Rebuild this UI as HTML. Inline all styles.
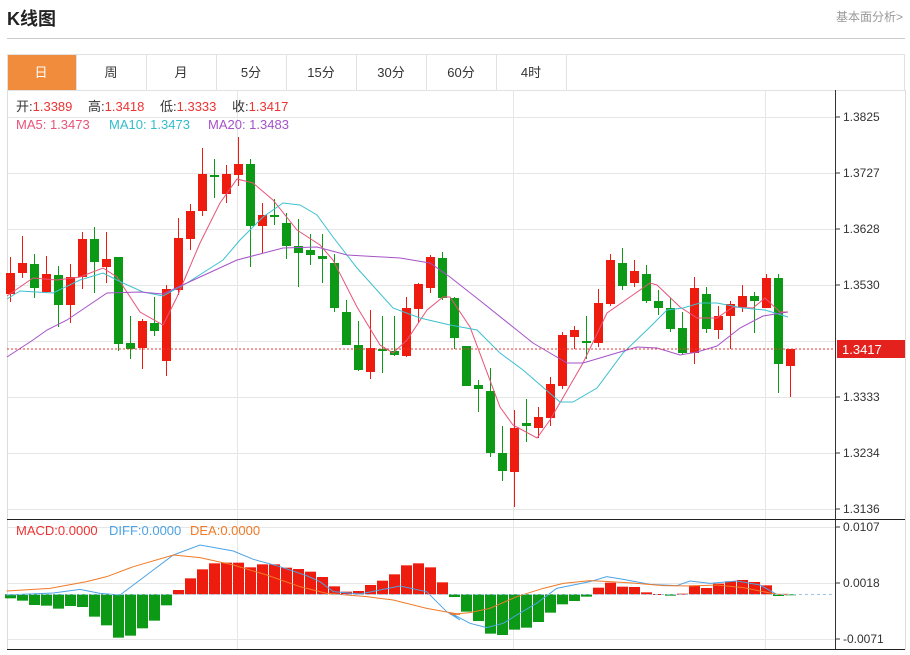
<!DOCTYPE html>
<html><head><meta charset="utf-8"><style>
body{margin:0;background:#fff;width:910px;height:650px;overflow:hidden;font-family:"Liberation Sans","Noto Sans CJK SC",sans-serif;}
svg text{font-family:"Liberation Sans","Noto Sans CJK SC",sans-serif;}
</style></head><body>
<svg id="s" width="910" height="650" xmlns="http://www.w3.org/2000/svg">
<text x="7" y="25" font-size="18" font-weight="bold" fill="#222">K线图</text>
<text x="903" y="21" font-size="12" fill="#999" text-anchor="end">基本面分析&gt;</text>
<line x1="7" y1="38.5" x2="905" y2="38.5" stroke="#ccc"/>
<rect x="7.5" y="54.5" width="897" height="36" fill="#fff" stroke="#e2e2e2"/>
<rect x="8" y="55" width="68" height="35" fill="#f08c3c"/>
<g font-size="13" text-anchor="middle" fill="#333">
<text x="41" y="77" fill="#fff">日</text><text x="111" y="77">周</text><text x="181" y="77">月</text><text x="251" y="77">5分</text><text x="321" y="77">15分</text><text x="391" y="77">30分</text><text x="461" y="77">60分</text><text x="531" y="77">4时</text>
</g>
<g stroke="#e2e2e2"><line x1="76.5" y1="55" x2="76.5" y2="90"/><line x1="146.5" y1="55" x2="146.5" y2="90"/><line x1="216.5" y1="55" x2="216.5" y2="90"/><line x1="286.5" y1="55" x2="286.5" y2="90"/><line x1="356.5" y1="55" x2="356.5" y2="90"/><line x1="426.5" y1="55" x2="426.5" y2="90"/><line x1="496.5" y1="55" x2="496.5" y2="90"/><line x1="566.5" y1="55" x2="566.5" y2="90"/></g>
<g id="grid" stroke="#e6e6e6"></g>
<line x1="7.5" y1="90" x2="7.5" y2="650" stroke="#ddd"/>
<line x1="905.5" y1="90" x2="905.5" y2="650" stroke="#ddd"/>
<line x1="835.5" y1="90" x2="835.5" y2="650" stroke="#333"/>
<line x1="7" y1="519.5" x2="905" y2="519.5" stroke="#222"/>
<line x1="7" y1="649.5" x2="905" y2="649.5" stroke="#222"/>
<g id="g"></g>
<line x1="7" y1="349" x2="835" y2="349" stroke="#e33" stroke-dasharray="2,2"/>
<line x1="7" y1="594.5" x2="835" y2="594.5" stroke="#9cc3e6" stroke-dasharray="3,3"/>
<rect x="837" y="340" width="68" height="18" fill="#e5211d"/>
<text x="842" y="354" font-size="13" fill="#fff">1.3417</text>
<g font-size="13">
<text x="16" y="111" fill="#333">开:<tspan fill="#e33">1.3389</tspan></text>
<text x="88" y="111" fill="#333">高:<tspan fill="#e33">1.3418</tspan></text>
<text x="160" y="111" fill="#333">低:<tspan fill="#e33">1.3333</tspan></text>
<text x="232" y="111" fill="#333">收:<tspan fill="#e33">1.3417</tspan></text>
<text x="16" y="129" fill="#e8537a">MA5: 1.3473</text>
<text x="109" y="129" fill="#33bccc">MA10: 1.3473</text>
<text x="208" y="129" fill="#a552c8">MA20: 1.3483</text>
<text x="16" y="535" fill="#e33">MACD:0.0000</text>
<text x="109" y="535" fill="#4da3e6">DIFF:0.0000</text>
<text x="190" y="535" fill="#f07a28">DEA:0.0000</text>
</g>
</svg>
<script>
var s=document.getElementById('g'),gr=document.getElementById('grid'),h='',gh='';
var ys=[117,173,229,285,341,397,453,509],lb=['1.3825','1.3727','1.3628','1.3530','1.3431','1.3333','1.3234','1.3136'];
ys.forEach(function(y,i){gh+='<line x1="8" y1="'+(y+.5)+'" x2="835" y2="'+(y+.5)+'"/>';if(i!=4)h+='<line x1="835" y1="'+y+'" x2="840" y2="'+y+'" stroke="#333"/><text x="843" y="'+(y+4)+'" font-size="12" fill="#333">'+lb[i]+'</text>';});
[[527,'0.0107'],[583,'0.0018'],[639,'-0.0071']].forEach(function(a){gh+='<line x1="8" y1="'+(a[0]+.5)+'" x2="835" y2="'+(a[0]+.5)+'"/>';h+='<line x1="835" y1="'+a[0]+'" x2="840" y2="'+a[0]+'" stroke="#333"/><text x="843" y="'+(a[0]+4)+'" font-size="12" fill="#333">'+a[1]+'</text>';});
[237,513,765].forEach(function(x){gh+='<line x1="'+(x+.5)+'" y1="90" x2="'+(x+.5)+'" y2="650"/>';});
gr.innerHTML=gh;
var C=[['r',273,294,257,302],['r',263,273,236,278],['g',264,288,254,298],['r',274,292,256,293],['g',275,305,266,327],['r',277,305,264,323],['r',239,277,232,289],['g',239,262,227,293],['r',259,267,232,283],['g',257,344,257,351],['g',343,349,316,359],['r',321,348,319,369],['g',323,331,297,336],['r',289,361,285,376],['r',238,290,218,295],['r',211,239,204,250],['r',174,211,148,216],['g',175,177,159,198],['r',174,194,165,203],['r',164,175,137,186],['g',164,226,159,267],['r',215,226,203,253],['g',215,217,199,225],['g',223,246,213,259],['g',246,253,219,287],['g',250,255,234,265],['g',256,259,234,283],['g',263,308,254,312],['g',312,345,300,345],['g',345,370,321,371],['r',348,372,310,379],['g',349,351,316,373],['g',351,355,316,356],['r',308,356,297,357],['r',284,309,283,323],['r',257,288,255,293],['g',258,298,252,300],['g',298,338,297,349],['g',346,386,346,386],['g',385,389,380,412],['g',391,453,368,457],['g',453,471,426,481],['r',428,472,410,507],['g',423,426,399,442],['r',417,428,407,438],['r',384,418,377,426],['r',335,386,332,389],['r',330,337,326,349],['g',341,343,316,359],['r',303,343,289,347],['r',260,304,254,306],['g',263,286,248,290],['r',271,283,260,287],['g',274,301,265,303],['g',301,308,290,315],['g',308,329,298,332],['g',328,353,312,355],['r',288,353,277,364],['g',294,329,287,333],['r',316,330,306,339],['r',304,316,301,349],['r',296,307,285,312],['g',296,301,292,333],['r',278,308,274,308],['g',278,364,274,393],['r',349,366,349,397]];
C.forEach(function(c,i){var x=10+12*i,col=c[0]=='r'?'#ee1c0e':'#0c9a16';h+='<line x1="'+(x+.5)+'" y1="'+c[3]+'" x2="'+(x+.5)+'" y2="'+c[4]+'" stroke="'+col+'"/><rect x="'+(x-4)+'" y="'+c[1]+'" width="9" height="'+Math.max(2,c[2]-c[1])+'" fill="'+col+'"/>';});
var M=[250,257,270,272,281,273,276,305,331,368,362,340,317,271,225,190,163,145,143,143,157,148,148,158,162,170,186,214,230,228,210,197,178,151,145,157,202,246];
var M2=[290,318,356,360,344,338,321,293,268,258,245,218,203,215,216,232,237,242,236,211,219,206,199,195,201,211,243,238];
M=M.concat(M2);var z=594.3;
M.forEach(function(v,i){var y=515+v/3,x=10+12*i,col=y<z?'#ee1c0e':'#0c9a16';var t=Math.min(y,z),hh=Math.abs(y-z);if(hh<1)hh=1;h+='<rect x="'+(x-5)+'" y="'+t+'" width="11" height="'+hh+'" fill="'+col+'"/>';});
function pl(p,col){h+='<polyline fill="none" stroke="'+col+'" stroke-width="1" points="'+p.map(function(a){return a.join(',')}).join(' ')+'"/>';}
function z3(a,ox,oy){return a.map(function(p){return [ox+p[0]/3,oy+p[1]/3];});}
pl([[7,296],[33,278],[57,280],[80,277],[103,268],[117,277],[140,312],[163,325],[177,297],[200,243],[220,203],[237,179],[253,183],[273,200],[297,230],[320,245],[333,260],[357,307],[380,345],[393,353],[407,340],[427,310],[443,297],[450,297],[470,327],[500,407],[513,425],[537,438],[550,420],[583,363],[607,313],[630,297],[650,283],[657,285],[680,307],[697,318],[717,318],[733,307],[753,308],[765,298],[780,312],[788,312]],'#e8537a');
pl([[7,299],[20,291],[53,293],[80,280],[103,273],[123,283],[143,292],[163,296],[187,283],[223,260],[240,240],[263,217],[283,203],[300,205],[317,215],[333,237],[357,268],[393,308],[420,318],[450,325],[477,330],[500,353],[523,370],[560,402],[573,402],[597,388],[623,353],[650,327],[667,310],[683,308],[700,303],[717,303],[743,308],[765,310],[788,317]],'#3cc0d0');
pl([[7,357],[33,340],[47,330],[67,320],[107,293],[140,292],[163,294],[200,277],[237,260],[283,248],[317,247],[347,255],[400,258],[430,263],[450,277],[483,303],[533,343],[567,363],[583,363],[610,355],[637,347],[657,348],[680,355],[697,352],[717,346],[740,328],[763,316],[788,312]],'#a552c8');
pl(z3([[20,240],[160,234],[240,223],[300,235],[360,240],[440,180],[520,120],[600,90],[700,108],[760,133],[840,155],[920,182],[960,200],[1000,230],[1080,237],[1200,213],[1280,230],[1340,290],[1380,315]],0,515).concat(z3([[0,293],[60,325],[110,338],[160,325],[200,300],[260,265],[320,220],[420,200],[470,185],[520,193],[600,208],[680,212],[720,198],[780,205],[860,198],[930,210],[980,238],[1017,238]],450,515)),'#4da3e6');
pl(z3([[20,228],[150,220],[260,200],[320,185],[400,155],[520,120],[600,128],[700,150],[800,180],[900,215],[980,235],[1100,245],[1180,255],[1280,280],[1380,298]],0,515).concat(z3([[0,298],[60,293],[120,280],[200,245],[280,220],[340,205],[420,197],[480,200],[560,205],[640,212],[720,213],[800,210],[880,218],[940,230],[980,238],[1017,238]],450,515)),'#f07a28');
s.innerHTML=h;
</script>
</body></html>
